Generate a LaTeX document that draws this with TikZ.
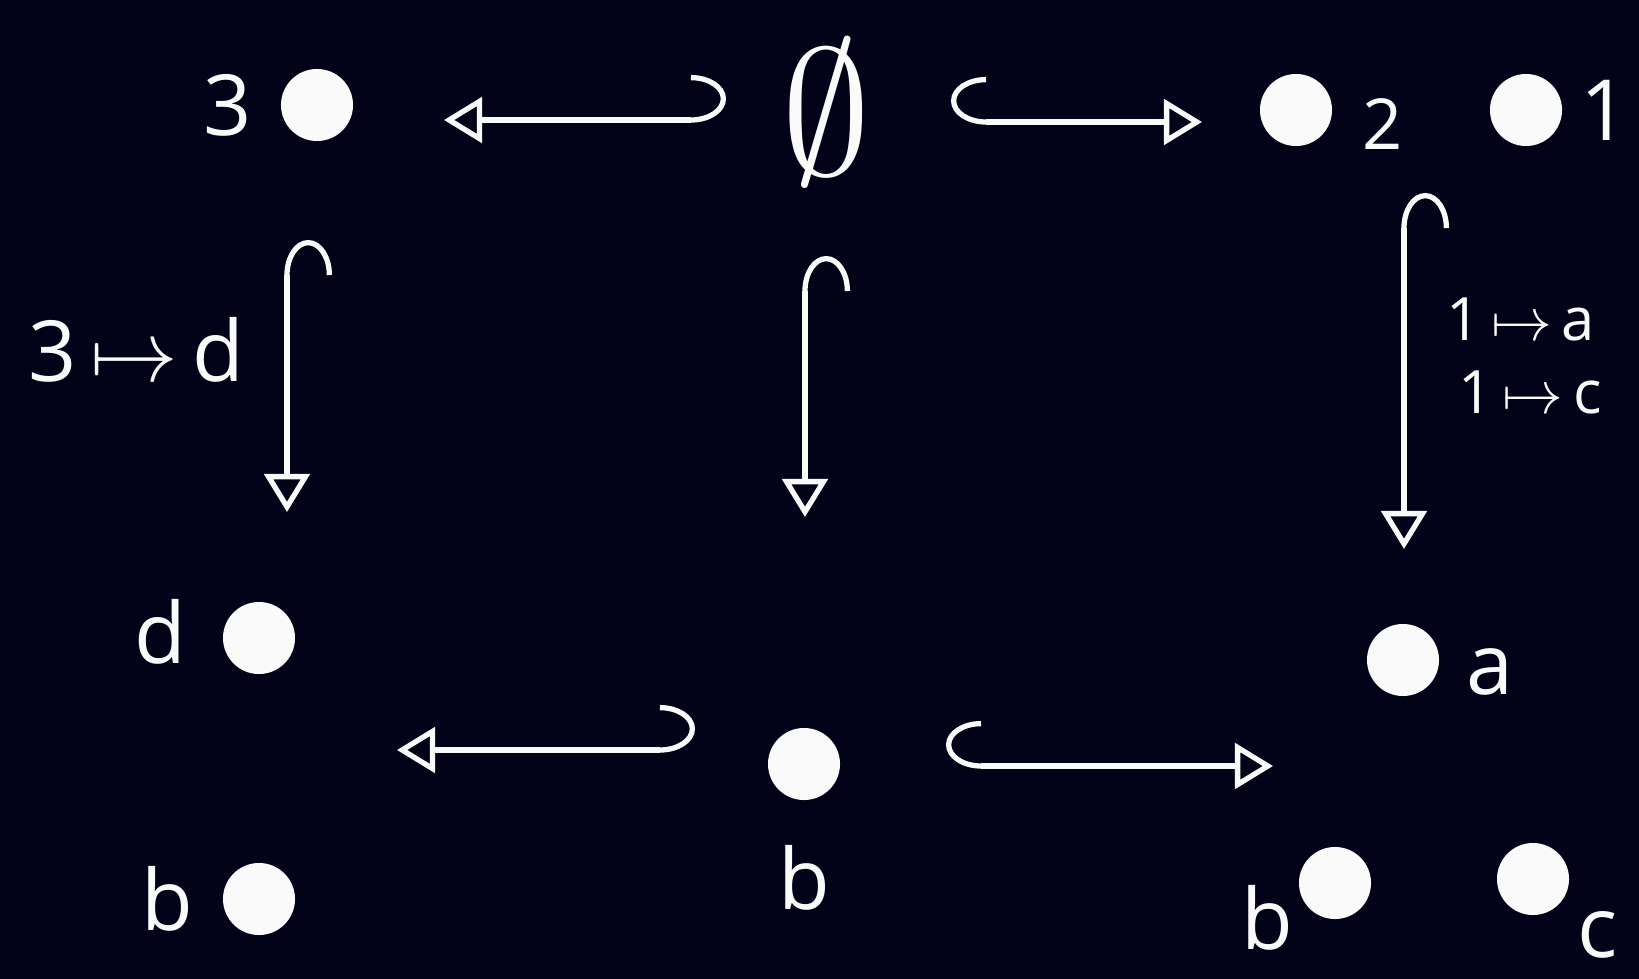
\documentclass[tikz,border=0pt]{standalone}
\usepackage{fontspec}
\setmainfont{Open Sans}
\usetikzlibrary{arrows.meta}
\definecolor{bg}{RGB}{2,3,25}
\definecolor{ink}{RGB}{250,250,250}
\begin{document}
\begin{tikzpicture}[x=0.01cm,y=-0.01cm,
  dot/.style={circle,fill=ink,minimum size=0.72cm,inner sep=0pt},
  lab/.style={text=ink,inner sep=0pt,font=\fontsize{24}{28}\selectfont},
  small/.style={text=ink,inner sep=0pt,font=\fontsize{17}{22}\selectfont},
  injL/.style={draw=ink,line width=1.5pt,{Hooks[left,length=0.35cm,width=0.9cm]}-{Triangle[open,length=0.38cm,width=0.45cm]}},
  injR/.style={draw=ink,line width=1.5pt,{Hooks[right,length=0.35cm,width=0.9cm]}-{Triangle[open,length=0.38cm,width=0.45cm]}}]
\fill[bg] (0,0) rectangle (1639,979);
\useasboundingbox (0,0) rectangle (1639,979);
% top row
\node[lab] (l3) at (228,105) {3};
\node[dot] (t3) at (317,105) {};
\node[text=ink,inner sep=0pt,font=\fontsize{24}{28}\selectfont,scale=2.05] (empty) at (826,112) {$\emptyset$};
\node[dot] (t2) at (1296,110) {};
\node[lab,font=\fontsize{20}{24}\selectfont] (l2) at (1383,124) {2};
\node[dot] (t1) at (1526,110) {};
\node[lab] (l1) at (1605,110) {1};
% left column bottom
\node[lab] (ld) at (160,632) {d};
\node[dot] (bd) at (259,638) {};
\node[lab] (lb1) at (167,899) {b};
\node[dot] (bb1) at (259,899) {};
% middle bottom
\node[dot] (mb) at (804,764) {};
\node[lab] (lmb) at (804,878) {b};
% right bottom
\node[dot] (ra) at (1403,660) {};
\node[lab] (lra) at (1490,672) {a};
\node[dot] (rb) at (1335,883) {};
\node[lab] (lrb) at (1267,918) {b};
\node[dot] (rc) at (1533,879) {};
\node[lab] (lrc) at (1598,935) {c};
% arrow labels
\node[lab] (m3d) at (136,350) {3\,$\mapsto$\,d};
\node[small] (m1a) at (1521,319) {1\,$\mapsto$\,a};
\node[small] (m1c) at (1530,392) {1\,$\mapsto$\,c};
% arrow end points
\coordinate (a1s) at (726,120); \coordinate (a1t) at (444,120);
\coordinate (a2s) at (951,122); \coordinate (a2t) at (1202,122);
\coordinate (a3s) at (287,240); \coordinate (a3t) at (287,512);
\coordinate (a4s) at (805,256); \coordinate (a4t) at (805,517);
\coordinate (a5s) at (1404,193); \coordinate (a5t) at (1404,549);
\coordinate (a6s) at (695,750); \coordinate (a6t) at (397,750);
\coordinate (a7s) at (946,766); \coordinate (a7t) at (1273,766);
\draw[injL] (a1s) -- (a1t);
\draw[injR] (a2s) -- (a2t);
\draw[injR] (a3s) -- (a3t);
\draw[injR] (a4s) -- (a4t);
\draw[injR] (a5s) -- (a5t);
\draw[injL] (a6s) -- (a6t);
\draw[injR] (a7s) -- (a7t);
\end{tikzpicture}
\end{document}
